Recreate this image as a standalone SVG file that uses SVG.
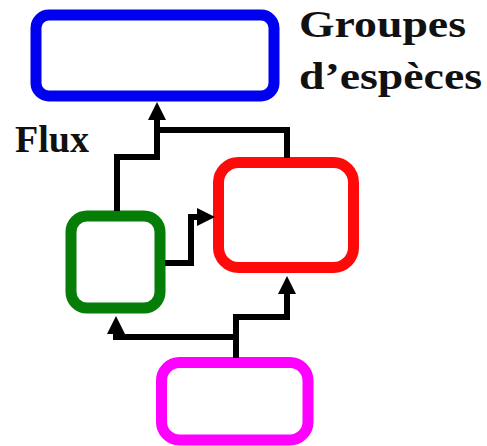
<svg xmlns="http://www.w3.org/2000/svg" width="487" height="446" viewBox="0 0 487 446">
<style>
.box{fill:none;stroke-width:11}
.conn{fill:none;stroke:#000;stroke-width:6;stroke-linejoin:miter}
.lbl{font-family:"Liberation Serif","Times New Roman",serif;font-weight:bold;font-size:37px;fill:#111}
</style>
<defs>
<marker id="ah" markerUnits="userSpaceOnUse" markerWidth="18" markerHeight="18" refX="0" refY="8.5" orient="auto" viewBox="0 0 17 17">
<path d="M0,0 L17,8.5 L0,17 z" fill="#000"/>
</marker>
</defs>
<rect width="487" height="446" fill="#fff"/>
<g id="blue"><rect class="box" x="36" y="15" width="238" height="81" rx="13" stroke="#0000F0"/></g>
<g id="red"><rect class="box" x="218.5" y="162.5" width="135" height="105" rx="20" stroke="#FF0A0A"/></g>
<g id="green"><rect class="box" x="71" y="216" width="89" height="92" rx="16" stroke="#067D06"/></g>
<g id="magenta"><rect class="box" x="161.5" y="362.5" width="146.5" height="77.5" rx="18" stroke="#FF00FF"/></g>
<g id="connectors">
<path class="conn" d="M117,211 V157 H157 V120" marker-end="url(#ah)"/>
<path class="conn" d="M287,158 V130 H157"/>
<path class="conn" d="M165,263 H191 V217 H197" marker-end="url(#ah)"/>
<path class="conn" d="M236,358 V337 H116 V334" marker-end="url(#ah)"/>
<path class="conn" d="M236,340 V317 H287 V294" marker-end="url(#ah)"/>
</g>
<g id="labels">
<text class="lbl" x="299" y="37" textLength="167" lengthAdjust="spacingAndGlyphs">Groupes</text>
<text class="lbl" x="299" y="89" textLength="183" lengthAdjust="spacingAndGlyphs">d’espèces</text>
<text class="lbl" x="15" y="152" textLength="74" lengthAdjust="spacingAndGlyphs">Flux</text>
</g>
</svg>
